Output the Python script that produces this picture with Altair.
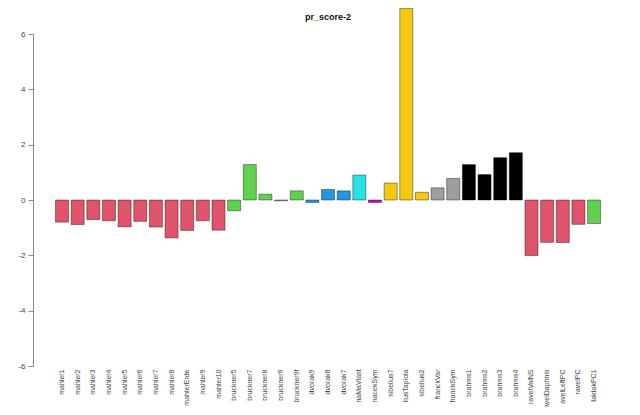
import altair as alt
import pandas as pd

title_text = ["pr_score-2"]
names = ["mahler1", "mahler2", "mahler3", "mahler4", "mahler5", "mahler6", "mahler7",
         "mahler8", "mahlerErde", "mahler9", "mahler10", "bruckner5", "bruckner7",
         "bruckner8", "bruckner9", "bruckner9f", "dvorak9", "dvorak8", "dvorak7",
         "naMaVlast", "nacekSym", "sibelius7", "liusTapiola", "sibelius2", "franckVar",
         "franckSym", "brahms1", "brahms2", "brahms3", "brahms4", "ravelValNS",
         "avelDaphnis", "avelLeftPC", "ravelPC", "taktakPC1"]
values = [-0.80, -0.89, -0.71, -0.75, -0.97, -0.77, -0.98, -1.37, -1.10, -0.75, -1.09,
          -0.39, 1.28, 0.21, -0.03, 0.33, -0.09, 0.38, 0.33, 0.90, -0.09, 0.61, 6.93,
          0.28, 0.44, 0.78, 1.28, 0.92, 1.53, 1.71, -2.01, -1.53, -1.54, -0.88, -0.85]
colors = ["#DF536B"] * 11 + ["#61D04F"] * 5 + ["#2297E6"] * 3 + ["#28E2E5", "#CD0BBC"] + \
         ["#F5C710"] * 3 + ["#9E9E9E"] * 2 + ["#000000"] * 4 + ["#DF536B"] * 4 + ["#61D04F"]

df = pd.DataFrame({"name": names, "value": values, "color": colors})
tdf = pd.DataFrame({"t": title_text})

bars = alt.Chart(df).mark_bar(
    stroke="black", strokeWidth=0.6, strokeOpacity=0.65
).encode(
    x=alt.X("name:N", sort=names,
            scale=alt.Scale(paddingInner=0.167, paddingOuter=0, range=[22.5, 567.6]),
            axis=alt.Axis(title=None, labelAngle=270, labelAlign="right",
                          labelBaseline="middle", labelFontSize=7, labelFont="Liberation Sans",
                          labelColor="#444", ticks=False, domain=False, labelPadding=3,
                          labelLimit=200)),
    y=alt.Y("value:Q", scale=alt.Scale(domain=[-6, 6], nice=False),
            axis=alt.Axis(title=None, values=[-6, -4, -2, 0, 2, 4, 6],
                          labelExpr="'' + datum.value", labelFontSize=8,
                          labelFont="Liberation Sans", labelColor="#444",
                          domainColor="#888", tickColor="#888", tickSize=5,
                          labelPadding=3, grid=False)),
    color=alt.Color("color:N", scale=None),
)

title = alt.Chart(tdf).mark_text(
    fontSize=9, font="Liberation Sans", fontWeight="bold", color="#111",
    align="center", baseline="middle"
).encode(
    text="t:N",
    x=alt.value(295),
    y=alt.value(-17),
)

chart = alt.layer(bars, title).properties(
    width=590, height=332,
    autosize=alt.AutoSizeParams(type="none"),
    padding={"left": 25, "top": 26, "right": 9, "bottom": 41},
).configure_view(stroke=None)

chart.save("out.html", embed_options={"renderer": "svg", "actions": False})
